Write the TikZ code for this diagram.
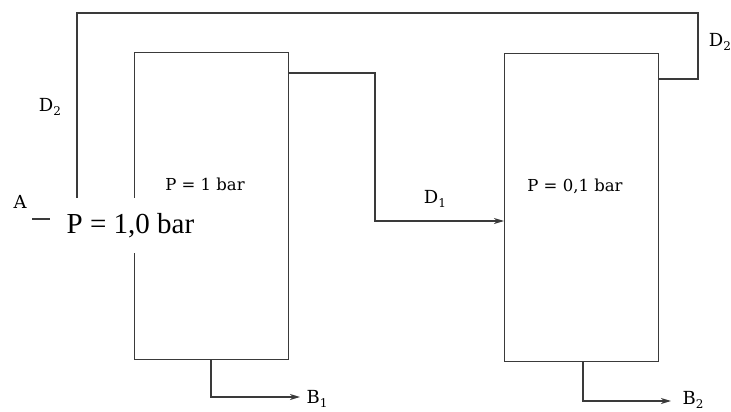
\documentclass[tikz,border=0pt]{standalone}
\usepackage{fontspec}
\setmainfont{DejaVu Serif}
\newfontfamily\bigfont{Liberation Serif}
\usetikzlibrary{arrows.meta}
\definecolor{linec}{HTML}{3A3A3A}
\newcommand{\lab}[2]{#1\raisebox{-0.45ex}{\fontsize{12}{12}\selectfont #2}}
\tikzset{
  vessel/.style={draw=linec, line width=1.3pt, minimum width=154pt, minimum height=307pt, inner sep=0pt, anchor=north west},
  pipe/.style={draw=linec, line width=1.3pt},
  arr/.style={pipe, -{Stealth[length=10pt,width=6pt,inset=3pt]}},
  lbl/.style={font=\fontsize{18}{18}\selectfont, text=black, inner sep=0pt},
  plbl/.style={font=\fontsize{16.5}{16.5}\selectfont, text=black, inner sep=0pt},
  cover/.style={fill=white, draw=none, inner sep=0pt, minimum width=182pt, minimum height=55pt},
}
\begin{document}
\begin{tikzpicture}[x=1pt,y=-1pt]
\useasboundingbox (0,0) rectangle (731,412);
% vessels
\node[vessel] (col1) at (134,52) {};
\node[vessel, minimum height=308pt] (col2) at (504,53) {};
% bend coordinates
\coordinate (d1) at (375,221);
\coordinate (tr) at (698,13);
\coordinate (tl) at (77,13);
\coordinate (fe) at (77,205);
\coordinate (fs) at (32,219);
\coordinate (b1) at (211,397);
\coordinate (b1e) at (300,397);
\coordinate (b2) at (583,401);
\coordinate (b2e) at (671,401);
% D1 transfer
\draw[arr] ([yshift=-21pt]col1.north east) -| (d1) -- (col2.west |- d1);
% D2 recycle
\draw[pipe] ([yshift=-26pt]col2.north east) -| (tr) -- (tl) -- (fe);
% feed
\draw[arr] (fs) -- (col1.west |- fs);
% bottoms
\draw[arr] (col1.south -| b1) -- (b1) -- (b1e);
\draw[arr] (col2.south -| b2) -- (b2) -- (b2e);
% labels
\node[plbl] (p1) at (205,184) {P = 1 bar};
\node[plbl] (p2) at (575,186) {P = 0,1 bar};
\node[lbl] (lD1) at (435,199) {\lab{D}{1}};
\node[lbl] (lD2a) at (50,107) {\lab{D}{2}};
\node[lbl] (lD2b) at (720,42) {\lab{D}{2}};
\node[lbl] (lB1) at (317,399) {\lab{B}{1}};
\node[lbl] (lB2) at (693,400) {\lab{B}{2}};
\node[lbl] (lA) at (20,202) {A};
% overlay label
\node[cover] (cov) at (141,225) {};
\node[font=\bigfont\fontsize{29}{29}\selectfont, inner sep=0pt] (pbig) at (130.5,226) {P = 1,0 bar};
\end{tikzpicture}
\end{document}
